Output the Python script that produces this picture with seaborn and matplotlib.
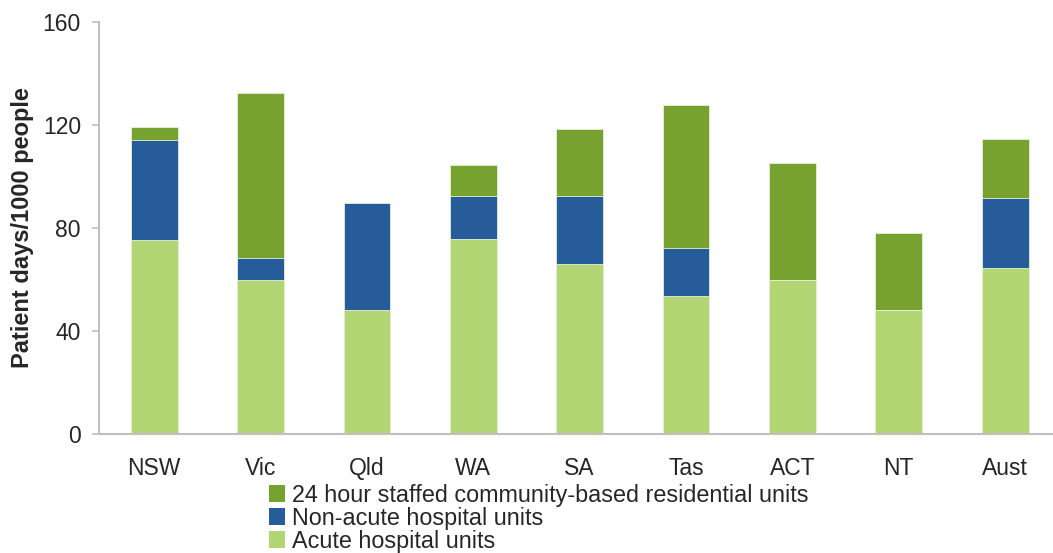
import matplotlib
matplotlib.use("Agg")
import matplotlib.pyplot as plt
import seaborn as sns
import pandas as pd
import numpy as np
from matplotlib.patches import Patch

# values (patient days per 1000 people)
states = ["NSW", "Vic", "Qld", "WA", "SA", "Tas", "ACT", "NT", "Aust"]
acute = [75.2, 59.7, 48.2, 75.9, 66.0, 53.6, 59.8, 48.2, 64.3]
non_acute = [38.8, 8.6, 41.6, 16.4, 26.3, 18.8, 0.0, 0.0, 27.4]
residential = [5.2, 64.1, 0.0, 12.2, 26.1, 55.4, 45.4, 30.0, 22.9]

labels = ["Acute hospital units", "Non-acute hospital units",
          "24 hour staffed community-based residential units"]
colors = ["#B3D675", "#275C9A", "#78A22F"]

df = pd.DataFrame({"state": states, "acute": acute,
                   "non_acute": non_acute, "residential": residential})
df["c1"] = df["acute"]
df["c2"] = df["c1"] + df["non_acute"]
df["c3"] = df["c2"] + df["residential"]

sns.set_style("white")
plt.rcParams["font.family"] = ["Liberation Sans", "DejaVu Sans"]

fig = plt.figure(figsize=(10.53, 5.53), dpi=100)
ax = fig.add_axes([99 / 1053, 1 - 434 / 553, 954 / 1053, 412 / 553])

# stacked bars: draw cumulative totals from the top down
for col, c in zip(["c3", "c2", "c1"], colors[::-1]):
    sns.barplot(data=df, x="state", y=col, color=c, width=0.44,
                edgecolor="#e8f0dc", linewidth=0.6, saturation=1, ax=ax)

ax.set_xlim(-0.52, 8.45)
ax.set_ylim(0, 160)
ax.set_yticks([0, 40, 80, 120, 160])
ax.set_xlabel("")
ax.set_ylabel("Patient days/1000 people", fontsize=17, fontweight="bold",
              labelpad=6)
ax.tick_params(axis="y", labelsize=16.5, left=True, length=5, width=1.2,
               color="#bfbfbf", pad=8)
ax.tick_params(axis="x", labelsize=16.5, bottom=False, pad=13)
for s in ["top", "right"]:
    ax.spines[s].set_visible(False)
for s in ["left", "bottom"]:
    ax.spines[s].set_color("#bfbfbf")
    ax.spines[s].set_linewidth(1.5)

handles = [Patch(facecolor=c, edgecolor="none") for c in colors[::-1]]
fig.legend(handles, labels[::-1], loc="upper left",
           bbox_to_anchor=(257 / 1053, 1 - 472 / 553), frameon=False,
           fontsize=16.8, handlelength=0.7, handleheight=0.7,
           handletextpad=0.3, labelspacing=0.0, borderpad=0)

fig.savefig("out.png", dpi=100)
